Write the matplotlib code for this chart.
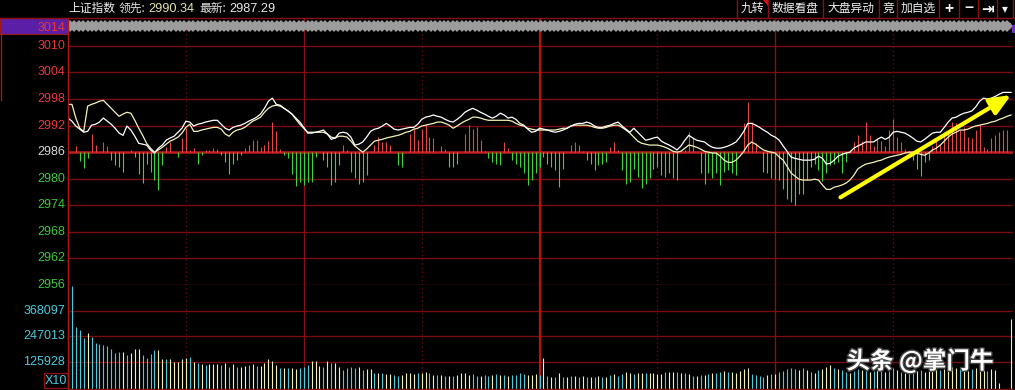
import matplotlib
matplotlib.use('Agg')
import matplotlib.pyplot as plt
import matplotlib.patheffects as pe
from matplotlib.lines import Line2D
from matplotlib.patches import Rectangle, Polygon
import numpy as np

# ---- data (one value per minute, 241 minutes) ----
PREV_CLOSE = 2986
PRICE_TICKS = [3014, 3010, 3004, 2998, 2992, 2986, 2980, 2974, 2968, 2962, 2956]
VOL_TICKS = [368097, 247013, 125928]
HEADER_NAME = '上证指数'
LEAD_VALUE = '2990.34'
LAST_VALUE = '2987.29'
BUTTONS = ['九转', '数据看盘', '大盘异动', '竞', '加自选', '+', '−', '⇥', '▾']

white_line = [
    2993.7, 2993.0, 2991.9, 2991.2, 2990.5, 2990.7, 2992.1, 2992.3, 2992.8, 2993.7,
    2993.0, 2992.3, 2991.4, 2990.3, 2989.8, 2991.9, 2991.0, 2989.6, 2988.0, 2987.8,
    2987.6, 2986.5, 2985.8, 2986.9, 2987.6, 2988.7, 2989.2, 2989.6, 2990.5, 2991.4,
    2993.0, 2992.8, 2991.9, 2992.3, 2992.5, 2992.8, 2993.0, 2993.2, 2993.2, 2992.3,
    2991.4, 2991.0, 2991.6, 2991.9, 2992.1, 2992.5, 2993.0, 2993.4, 2993.9, 2994.6,
    2995.9, 2997.5, 2998.2, 2996.8, 2996.6, 2995.9, 2995.3, 2994.6, 2993.7, 2992.8,
    2991.6, 2990.3, 2990.3, 2990.5, 2990.7, 2991.0, 2990.1, 2988.9, 2989.2, 2990.3,
    2990.5, 2990.3, 2989.4, 2987.6, 2987.8, 2988.3, 2989.4, 2990.7, 2991.2, 2991.4,
    2991.9, 2992.5, 2991.9, 2991.2, 2991.0, 2991.2, 2991.4, 2991.6, 2991.6, 2992.3,
    2993.4, 2993.9, 2994.1, 2994.4, 2994.1, 2993.9, 2993.4, 2993.0, 2992.8, 2993.4,
    2994.1, 2995.0, 2995.5, 2995.9, 2995.5, 2995.0, 2994.6, 2994.1, 2993.7, 2994.1,
    2994.8, 2994.4, 2993.7, 2993.9, 2993.4, 2992.5, 2992.1, 2991.2, 2990.5, 2990.7,
    2991.4, 2991.2, 2991.0, 2990.7, 2990.5, 2990.7, 2991.0, 2991.4, 2991.9, 2992.3,
    2992.5, 2992.5, 2992.8, 2992.5, 2991.9, 2991.6, 2991.6, 2991.9, 2992.1, 2992.5,
    2992.8, 2991.9, 2991.2, 2990.5, 2991.4, 2990.5, 2989.6, 2988.7, 2988.9, 2989.2,
    2989.4, 2988.5, 2988.0, 2987.6, 2987.1, 2986.5, 2987.4, 2988.7, 2989.8, 2989.2,
    2988.7, 2988.5, 2988.3, 2987.6, 2987.1, 2986.9, 2986.9, 2987.1, 2987.4, 2987.8,
    2988.3, 2989.4, 2990.7, 2992.5, 2992.5, 2992.1, 2991.6, 2991.0, 2990.5, 2989.8,
    2989.4, 2988.7, 2987.4, 2986.2, 2984.9, 2984.6, 2984.4, 2984.2, 2984.2, 2984.2,
    2984.4, 2985.1, 2984.6, 2983.3, 2983.5, 2984.2, 2985.1, 2985.5, 2985.8, 2986.0,
    2986.9, 2987.4, 2987.8, 2988.3, 2988.3, 2988.3, 2988.9, 2989.4, 2988.9, 2989.4,
    2990.5, 2990.7, 2990.5, 2990.3, 2989.8, 2989.2, 2988.5, 2988.3, 2988.9, 2989.6,
    2990.3, 2990.5, 2990.5, 2991.6, 2992.8, 2993.7, 2993.9, 2994.4, 2994.8, 2995.0,
    2995.3, 2996.2, 2997.5, 2998.2, 2998.0, 2998.2, 2998.6, 2999.1, 2999.5, 2999.5,
    2999.5,
]

cream_line = [
    2996.8, 2996.8, 2993.7, 2991.4, 2990.7, 2996.4, 2996.8, 2997.1, 2997.5, 2997.7,
    2996.8, 2995.9, 2995.0, 2994.1, 2994.6, 2995.0, 2994.8, 2993.2, 2991.4, 2989.8,
    2988.0, 2986.9, 2986.0, 2986.5, 2987.1, 2987.8, 2988.5, 2988.9, 2989.4, 2990.3,
    2991.6, 2992.3, 2990.7, 2990.7, 2991.0, 2991.2, 2991.4, 2991.6, 2991.6, 2991.2,
    2990.1, 2989.6, 2990.5, 2991.0, 2991.2, 2991.6, 2992.3, 2993.0, 2993.4, 2993.9,
    2995.0, 2995.9, 2996.4, 2996.6, 2996.4, 2995.9, 2995.3, 2994.6, 2993.4, 2992.3,
    2991.4, 2990.5, 2990.5, 2990.5, 2990.5, 2990.5, 2990.1, 2989.4, 2989.2, 2989.6,
    2989.6, 2989.4, 2988.5, 2987.4, 2986.7, 2986.0, 2986.7, 2987.6, 2988.5, 2988.7,
    2988.9, 2989.2, 2989.4, 2989.6, 2989.8, 2990.1, 2990.5, 2990.7, 2991.2, 2991.4,
    2991.9, 2992.1, 2992.3, 2992.5, 2992.8, 2992.8, 2992.5, 2992.1, 2991.4, 2991.9,
    2992.5, 2993.0, 2993.4, 2993.9, 2993.9, 2993.7, 2993.4, 2993.2, 2993.2, 2993.2,
    2993.2, 2993.2, 2993.2, 2993.0, 2992.5, 2992.1, 2991.9, 2991.4, 2991.2, 2991.0,
    2991.0, 2991.0, 2991.0, 2991.0, 2991.0, 2991.2, 2991.4, 2991.4, 2991.9, 2992.1,
    2992.1, 2992.1, 2992.1, 2991.9, 2991.6, 2991.4, 2991.4, 2991.6, 2991.9, 2992.1,
    2992.1, 2991.6, 2991.0, 2990.3, 2989.4, 2988.5, 2988.0, 2987.8, 2987.6, 2987.6,
    2987.6, 2987.4, 2987.1, 2986.7, 2986.2, 2986.0, 2986.2, 2986.9, 2987.6, 2987.4,
    2987.1, 2986.7, 2986.2, 2986.0, 2985.8, 2985.8, 2985.1, 2984.2, 2983.7, 2983.7,
    2984.2, 2985.1, 2986.2, 2987.6, 2988.3, 2987.8, 2987.1, 2986.5, 2986.2, 2986.0,
    2985.8, 2984.9, 2984.2, 2982.8, 2981.3, 2980.6, 2979.9, 2979.7, 2979.7, 2979.7,
    2979.9, 2979.7, 2978.6, 2977.6, 2977.6, 2978.1, 2978.3, 2978.6, 2979.0, 2979.7,
    2980.8, 2982.2, 2982.8, 2983.3, 2983.5, 2983.7, 2984.0, 2984.2, 2984.6, 2984.9,
    2985.1, 2985.3, 2985.5, 2985.8, 2986.0, 2986.0, 2985.8, 2985.5, 2985.3, 2985.8,
    2986.5, 2986.9, 2987.6, 2988.5, 2989.4, 2990.1, 2990.5, 2991.0, 2991.0, 2991.2,
    2991.6, 2991.9, 2992.1, 2992.3, 2992.5, 2992.8, 2993.0, 2993.4, 2993.7, 2994.1,
    2994.4,
]

# red/green strength bars, measured from the previous close line
lead_bars = [
    0, 0, 1.35, -2.0, -3.5, -1.4, 4.0, 1.7, 0, 2.3,
    1.35, -1.8, -2.9, -3.3, -4.4, 0, 0.45, -1.05, -5.0, -6.9,
    -2.6, -4.4, -6.3, -8.6, -2.9, 1.2, 2.2, 0, -1.05, 3.2,
    5.5, 0.6, 1.0, -2.6, -0.7, 0.45, 0.6, 1.0, 0.8, -0.7,
    -2.2, -5.0, -2.6, -1.8, -0.7, 1.0, 1.7, 2.7, 2.7, 1.2,
    1.6, 2.5, 6.8, 4.7, 0.8, -0.7, -1.4, -5.0, -7.6, -6.7,
    -7.4, -6.7, -6.7, -1.05, 0, -1.8, -3.3, -7.4, -6.7, -2.9,
    1.6, 0.45, -4.4, -5.9, -7.1, -6.7, -5.2, 0.3, 1.6, 3.5,
    2.2, 2.2, 1.6, 0, -2.9, -3.3, 0, 4.2, 5.2, 2.7,
    5.3, 6.2, 3.5, 3.2, 0, 1.4, 0.7, -3.3, -3.3, -2.6,
    0, 4.2, 6.2, 5.3, 5.7, 2.7, 0.3, -1.4, -2.2, -2.6,
    -2.8, 2.3, 1.0, -1.8, -2.6, -3.3, -4.8, -7.4, -6.3, -4.8,
    -3.3, -1.05, -2.6, -3.3, -4.1, -7.8, -3.7, 0, 1.6, 2.3,
    1.6, 0.2, -1.8, -2.6, -4.1, -2.9, -2.6, -2.2, 1.2, 2.3,
    0.45, -4.1, -7.1, -6.7, -3.7, -5.6, -8.2, -7.1, -5.9, -3.7,
    -3.3, -5.2, -5.6, -4.8, -5.9, -6.3, 0, 0.5, 4.6, 3.1,
    0, -4.8, -7.1, -4.8, -5.9, -4.8, -7.4, -4.4, -4.1, -4.8,
    -5.2, 0, 6.5, 11.4, 6.8, 2.0, 0, -4.4, -4.8, -5.8,
    -6.0, -6.3, -8.3, -10.5, -11.3, -12.0, -9.4, -9.4, -6.3, -3.4,
    -2.6, -4.1, -6.5, -4.8, -2.9, -2.6, -2.2, -4.8, -2.2, 0.5,
    2.3, 3.8, 2.6, 6.8, 3.8, 1.5, 3.1, 2.6, 1.5, 5.0,
    7.6, 3.4, 2.3, 0.8, 0.3, -1.8, -3.7, -5.3, -2.2, -1.8,
    1.5, 2.6, 1.9, 3.8, 5.0, 6.8, 6.5, 5.0, 5.7, 3.4,
    3.1, 5.0, 6.1, 1.2, 0.8, 3.1, 3.8, 4.5, 5.0, 5.0,
    0,
]

volume = [
    217800, 488500, 293700, 277900, 241500, 265200, 246200, 214600, 211400, 206700,
    202000, 186100, 170300, 173500, 173500, 159200, 170300, 186100, 186100, 159200,
    146500, 162400, 181300, 181300, 140200, 140200, 140200, 125900, 125900, 140200,
    146500, 149700, 125900, 119600, 116400, 111700, 116400, 116400, 116400, 111700,
    119600, 103800, 114800, 103800, 103800, 106900, 110100, 116400, 106900, 106900,
    119600, 140200, 130700, 111700, 99000, 99000, 99000, 99000, 94300, 99000,
    103800, 111700, 130700, 130700, 106900, 100600, 130700, 122800, 119600, 103800,
    87900, 95900, 100600, 95900, 100600, 87900, 92700, 91100, 75300, 72100,
    72100, 68900, 68900, 64200, 59500, 64200, 72100, 72100, 68900, 72100,
    72100, 80000, 72100, 64200, 64200, 64200, 59500, 59500, 59500, 64200,
    72100, 72100, 64200, 68900, 59500, 59500, 64200, 59500, 64200, 68900,
    64200, 64200, 59500, 64200, 64200, 72100, 68900, 64200, 64200, 68900,
    62000, 143400, 59500, 56300, 56300, 72100, 56300, 56300, 59500, 59500,
    56300, 59500, 56300, 56300, 56300, 59500, 56300, 56300, 64200, 68900,
    59500, 68900, 80000, 72100, 68900, 75300, 75300, 75300, 72100, 72100,
    68900, 68900, 80000, 80000, 80000, 80000, 75300, 72100, 68900, 59500,
    59500, 64200, 64200, 68900, 72100, 75300, 80000, 84800, 80000, 80000,
    72100, 84800, 91100, 95900, 68900, 64200, 59500, 56300, 64200, 68900,
    68900, 80000, 84800, 91100, 95900, 91100, 87900, 95900, 87900, 80000,
    75300, 87900, 91100, 103800, 111700, 95900, 91100, 87900, 80000, 75300,
    84800, 91100, 87900, 95900, 80000, 84800, 91100, 87900, 80000, 84800,
    95900, 87900, 80000, 75300, 72100, 80000, 84800, 87900, 80000, 84800,
    91100, 95900, 87900, 91100, 95900, 103800, 95900, 91100, 87900, 84800,
    91100, 95900, 103800, 87900, 84800, 91100, 87900, 26000, 0, 0,
    330000,
]

# 1 = up minute (pale yellow bar), 0 = down minute (cyan bar)
vol_up = [
    1, 0, 0, 0, 0, 1, 0, 0, 0, 0,  0, 0, 0, 0, 1, 0, 1, 1, 1, 0,
    0, 0, 0, 1, 1, 0, 1, 1, 1, 1,  1, 0, 1, 0, 1, 0, 1, 1, 1, 0,
    1, 0, 1, 0, 1, 1, 0, 1, 0, 1,  1, 1, 1, 1, 0, 1, 0, 1, 1, 0,
    0, 0, 1, 1, 1, 0, 1, 0, 1, 1,  0, 0, 0, 0, 1, 0, 1, 1, 0, 1,
    0, 1, 1, 0, 0, 1, 1, 1, 1, 0,  1, 1, 0, 1, 0, 1, 0, 1, 0, 1,
    1, 1, 1, 0, 0, 1, 0, 0, 1, 0,  1, 0, 1, 0, 0, 0, 0, 1, 1, 1,
    0, 1, 0, 1, 0, 1, 0, 1, 0, 1,  0, 1, 0, 1, 0, 1, 0, 1, 0, 1,
    0, 0, 1, 1, 0, 1, 1, 0, 1, 1,  1, 1, 0, 1, 1, 0, 1, 0, 1, 0,
    1, 0, 1, 0, 1, 0, 0, 1, 0, 1,  1, 1, 1, 1, 0, 0, 0, 0, 1, 0,
    1, 0, 0, 0, 0, 0, 1, 0, 1, 0,  1, 0, 1, 1, 1, 0, 1, 0, 0, 1,
    0, 0, 1, 0, 1, 0, 1, 0, 1, 0,  0, 1, 0, 1, 0, 0, 1, 0, 1, 1,
    1, 1, 0, 1, 1, 1, 1, 0, 1, 1,  0, 1, 1, 1, 0, 1, 1, 1, 1, 1,
    1,
]

# hand-drawn yellow trend arrow (minute, price)
ARROW_FROM = (196.6, 2975.8)
ARROW_TO = (240.0, 2998.9)

# ---- colours ----
BG = '#000000'
GRID = '#7a0c0c'
RED_TXT = '#e8383c'
GREEN_TXT = '#3cc83c'
CYAN = '#4ccadc'
CREAM = '#f2f2b8'
UP_BAR = '#e24848'
DN_BAR = '#3ed23e'

W, H = 1015, 390
CJK = ['Noto Sans CJK SC', 'DejaVu Sans']
NUM = ['Liberation Sans', 'DejaVu Sans']


def box(x0, y0, x1, y1):
    return [x0 / W, 1 - y1 / H, (x1 - x0) / W, (y1 - y0) / H]


def fx(x):
    return x / W


def fy(y):
    return 1 - y / H


fig = plt.figure(figsize=(W / 100, H / 100), dpi=100, facecolor=BG)

ax = fig.add_axes(box(68, 18, 1013, 285))
axv = fig.add_axes(box(68, 285, 1013, 388.5), sharex=ax)
for a in (ax, axv):
    a.set_facecolor(BG)
    a.set_xticks([])
    a.set_yticks([])
    for s in a.spines.values():
        s.set_visible(False)

minutes = np.arange(len(white_line))
ax.set_xlim(0, 240.5)
ax.set_ylim(2956, 3016.3)
axv.set_ylim(0, 491500)

# horizontal grid
for p in PRICE_TICKS:
    if p == PREV_CLOSE:
        ax.axhline(p, color='#c41c1c', lw=1.8, zorder=2)
    else:
        ax.axhline(p, color=GRID, lw=1.0, zorder=1)
for v in VOL_TICKS:
    axv.axhline(v, color=GRID, lw=1.0, zorder=1)

# vertical half-hour lines
for m in range(30, 241, 30):
    for a in (ax, axv):
        if m == 120:
            a.axvline(m, color='#b81414', lw=1.6, zorder=1)
        elif m in (60, 180):
            a.axvline(m, color='#8a1010', lw=1.0, zorder=1)
        elif m < 240:
            a.axvline(m, color='#6a0a0a', lw=1.0, ls=(0, (1, 2)), zorder=1)

# strength bars around the previous close
lb = np.array(lead_bars, dtype=float)
nz = lb != 0
ax.vlines(minutes[nz], PREV_CLOSE, PREV_CLOSE + lb[nz],
          colors=[UP_BAR if b > 0 else DN_BAR for b in lb[nz]], lw=0.8, zorder=2)

# price lines
ax.plot(minutes, cream_line, color=CREAM, lw=0.9, zorder=3)
ax.plot(minutes, white_line, color='#ffffff', lw=0.9, zorder=4)

# volume
vol = np.array(volume, dtype=float)
vz = vol > 0
axv.vlines(minutes[vz], 0, vol[vz],
           colors=[CREAM if u else CYAN for u, k in zip(vol_up, vz) if k], lw=0.8, zorder=2)

# yellow arrow
ax.annotate('', xy=ARROW_TO, xytext=ARROW_FROM, zorder=6,
            arrowprops=dict(arrowstyle='-|>,head_length=0.7,head_width=0.3',
                            mutation_scale=18, color='#ffff00', lw=3.0,
                            shrinkA=0, shrinkB=0))

# axis labels on the left
for p in PRICE_TICKS:
    if p > PREV_CLOSE:
        c = RED_TXT
    elif p == PREV_CLOSE:
        c = '#d8d8d8'
    else:
        c = GREEN_TXT
    ax.text(-0.003, p, str(p), transform=ax.get_yaxis_transform(), ha='right',
            va='center', color=c, fontsize=9, family=NUM, zorder=8)
for v in VOL_TICKS:
    axv.text(-0.003, v, str(v), transform=axv.get_yaxis_transform(), ha='right',
             va='center', color=CYAN, fontsize=9, family=NUM)

# purple price box behind 3014 label
fig.add_artist(Rectangle((0, fy(34)), fx(67), (34 - 18) / H, facecolor='#5a1fa6',
                         edgecolor='#a01818', lw=0.8, zorder=0))
fig.add_artist(Rectangle((fx(1012), fy(33)), fx(3), 8 / H, facecolor='#6a30c0',
                         edgecolor='none'))

# scrolling band
band = fig.add_axes(box(68, 19, 1011, 32))
band.set_xlim(0, 943)
band.set_ylim(0, 1)
band.axis('off')
band.fill_between([0, 943], 0.3, 0.7, color='#9c9c9c', lw=0)
dx = np.arange(2, 942, 4.4)
band.plot(dx, np.full(len(dx), 0.5), 'D', ms=6.6, color='#9c9c9c', mew=0)

# frame lines
fig.add_artist(Line2D([fx(68), fx(68)], [fy(18), fy(390)], color='#b01818', lw=1.0))
fig.add_artist(Line2D([0, 1], [fy(18), fy(18)], color='#8a1010', lw=1.0))
fig.add_artist(Line2D([fx(0.5), fx(0.5)], [fy(34), fy(100)], color='#a01818', lw=1.0))
fig.add_artist(Line2D([fx(68), fx(1013)], [fy(388.5), fy(388.5)], color=GRID, lw=1.0))

# X10 box
fig.add_artist(Rectangle((fx(44), fy(388)), fx(24), 15 / H, facecolor='none',
                         edgecolor='#8a1010', lw=1.0))
fig.text(fx(56), fy(381), 'X10', color=CYAN, fontsize=9, family=NUM,
         ha='center', va='center')

# header
hy = fy(8.5)
fig.text(fx(68), hy, HEADER_NAME, color='#f0f0f0', fontsize=8.5, family=CJK, va='center')
fig.text(fx(119), hy, '领先:', color='#e0e0e0', fontsize=8.5, family=CJK, va='center')
fig.text(fx(148), hy, LEAD_VALUE, color='#e4e4a8', fontsize=9.2, family=NUM, va='center')
fig.text(fx(199), hy, '最新:', color='#e0e0e0', fontsize=8.5, family=CJK, va='center')
fig.text(fx(229), hy, LAST_VALUE, color='#e8e8e8', fontsize=9.2, family=NUM, va='center')

btn_centers = [752, 795, 851, 888, 918, 949, 969, 988, 1005]
for label, cx in zip(BUTTONS, btn_centers):
    fs = 11 if label in ('+', '−', '⇥') else 8.5
    fig.text(fx(cx), hy, label, color='#f0f0f0', fontsize=fs, family=CJK,
             ha='center', va='center', fontweight='bold' if fs > 9 else 'normal')
for sx in [737, 768, 823, 879, 897, 939, 959, 978, 997, 1013]:
    fig.add_artist(Line2D([fx(sx), fx(sx)], [fy(0), fy(18)], color='#8a1010', lw=1.0))
fig.add_artist(Polygon([[fx(763), fy(0)], [fx(768), fy(0)], [fx(768), fy(6)]],
                       closed=True, facecolor='#e01010', edgecolor='none'))

# watermark
fig.text(fx(920), fy(361), '头条 @掌门牛', color='#ffffff', fontsize=17, family=CJK,
         ha='center', va='center', fontweight='bold', zorder=10,
         path_effects=[pe.withStroke(linewidth=2, foreground='#444444')])

fig.savefig('out.png', dpi=100, facecolor=BG)
